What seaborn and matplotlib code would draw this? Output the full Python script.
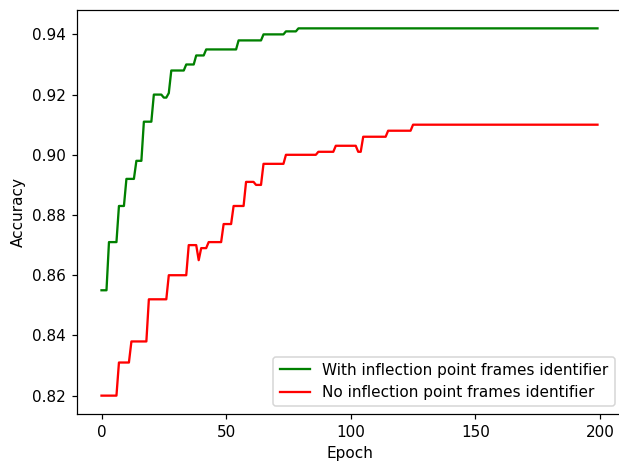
import numpy as np
import pandas as pd
import matplotlib
matplotlib.use("Agg")
import matplotlib.pyplot as plt
import seaborn as sns

# Step levels and their run lengths (number of epochs at each level)
green_values = [0.855, 0.871, 0.883, 0.892, 0.898, 0.911, 0.920, 0.919, 0.9205,
                0.928, 0.930, 0.933, 0.935, 0.938, 0.940, 0.941, 0.942]
green_runs = [3, 4, 3, 4, 3, 4, 4, 2, 1, 6, 4, 4, 13, 10, 9, 5, 121]

red_values = [0.820, 0.831, 0.838, 0.852, 0.860, 0.870, 0.865, 0.869, 0.871,
              0.877, 0.883, 0.891, 0.890, 0.897, 0.900, 0.901, 0.903, 0.901,
              0.906, 0.908, 0.910]
red_runs = [7, 5, 7, 8, 8, 4, 1, 3, 6, 4, 5, 4, 3, 9, 13, 7, 9, 2, 10, 10, 75]

green_label = "With inflection point frames identifier"
red_label = "No inflection point frames identifier"

green = np.repeat(green_values, green_runs)
red = np.repeat(red_values, red_runs)
epochs = np.arange(len(green))

df = pd.DataFrame({
    "Epoch": np.concatenate([epochs, epochs]),
    "Accuracy": np.concatenate([green, red]),
    "Series": [green_label] * len(green) + [red_label] * len(red),
})

DPI = 110
W, H = 619, 462
fig = plt.figure(figsize=(W / DPI, H / DPI), dpi=DPI)
left, right, top, bottom = 76.7, 622.3, 10, 414
ax = fig.add_axes([left / W, (H - bottom) / H, (right - left) / W, (bottom - top) / H])

sns.lineplot(data=df, x="Epoch", y="Accuracy", hue="Series",
             palette={green_label: "green", red_label: "red"},
             linewidth=1.5, ax=ax)
ax.set_xticks([0, 50, 100, 150, 200])
ax.set_yticks([0.82, 0.84, 0.86, 0.88, 0.90, 0.92, 0.94])
ax.legend(loc="lower right", title=None)
ax.set_xlabel("Epoch")
ax.set_ylabel("Accuracy")

fig.savefig("out.png", dpi=DPI)
